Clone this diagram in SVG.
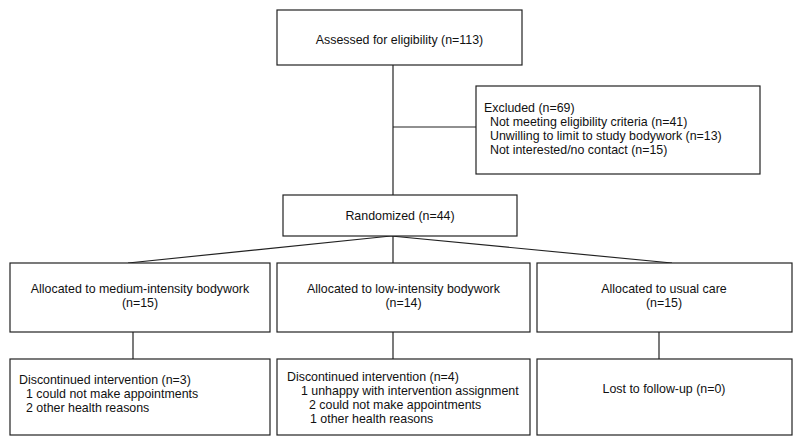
<svg xmlns="http://www.w3.org/2000/svg" width="800" height="446" viewBox="0 0 800 446">
<style>
.box{fill:#fff;stroke:#222;stroke-width:1.2}
.ln{stroke:#222;stroke-width:1.2;fill:none}
text{font-family:"Liberation Sans",Arial,sans-serif;font-size:12.4px;fill:#111}
.c{text-anchor:middle}
</style>
<rect width="800" height="446" fill="#fff"/>
<g id="connectors">
<line class="ln" x1="393" y1="65" x2="393" y2="195"/>
<line class="ln" x1="393" y1="127" x2="476" y2="127"/>
<line class="ln" x1="393" y1="236" x2="393" y2="263"/>
<line class="ln" x1="391" y1="236" x2="128" y2="263"/>
<line class="ln" x1="391" y1="236" x2="672" y2="263"/>
<line class="ln" x1="133" y1="332" x2="133" y2="359"/>
<line class="ln" x1="393" y1="332" x2="393" y2="359"/>
<line class="ln" x1="659" y1="332" x2="659" y2="359"/>
</g>
<g id="assessed">
<rect class="box" x="277" y="10" width="245" height="55"/>
<text class="c" x="399.5" y="44">Assessed for eligibility (n=113)</text>
</g>
<g id="excluded">
<rect class="box" x="476" y="86" width="284" height="88"/>
<text x="484" y="112">Excluded (n=69)</text>
<text x="490" y="126">Not meeting eligibility criteria (n=41)</text>
<text x="490" y="140">Unwilling to limit to study bodywork (n=13)</text>
<text x="490" y="154">Not interested/no contact (n=15)</text>
</g>
<g id="randomized">
<rect class="box" x="283" y="195" width="234" height="41"/>
<text class="c" x="400" y="219.5">Randomized (n=44)</text>
</g>
<g id="medium">
<rect class="box" x="10" y="263" width="260" height="69"/>
<text class="c" x="140" y="293">Allocated to medium-intensity bodywork</text>
<text class="c" x="140" y="307">(n=15)</text>
</g>
<g id="low">
<rect class="box" x="277" y="263" width="253" height="69"/>
<text class="c" x="403.5" y="293">Allocated to low-intensity bodywork</text>
<text class="c" x="403.5" y="307">(n=14)</text>
</g>
<g id="usual">
<rect class="box" x="537" y="263" width="255" height="69"/>
<text class="c" x="664" y="293">Allocated to usual care</text>
<text class="c" x="664" y="307">(n=15)</text>
</g>
<g id="disc-medium">
<rect class="box" x="10" y="359" width="260" height="76"/>
<text x="19" y="384">Discontinued intervention (n=3)</text>
<text x="26" y="398">1 could not make appointments</text>
<text x="26" y="412">2 other health reasons</text>
</g>
<g id="disc-low">
<rect class="box" x="277" y="359" width="253" height="76"/>
<text x="287" y="381">Discontinued intervention (n=4)</text>
<text x="301" y="395">1 unhappy with intervention assignment</text>
<text x="309" y="409">2 could not make appointments</text>
<text x="310" y="423">1 other health reasons</text>
</g>
<g id="lost">
<rect class="box" x="537" y="359" width="255" height="76"/>
<text class="c" x="664" y="393">Lost to follow-up (n=0)</text>
</g>
</svg>
